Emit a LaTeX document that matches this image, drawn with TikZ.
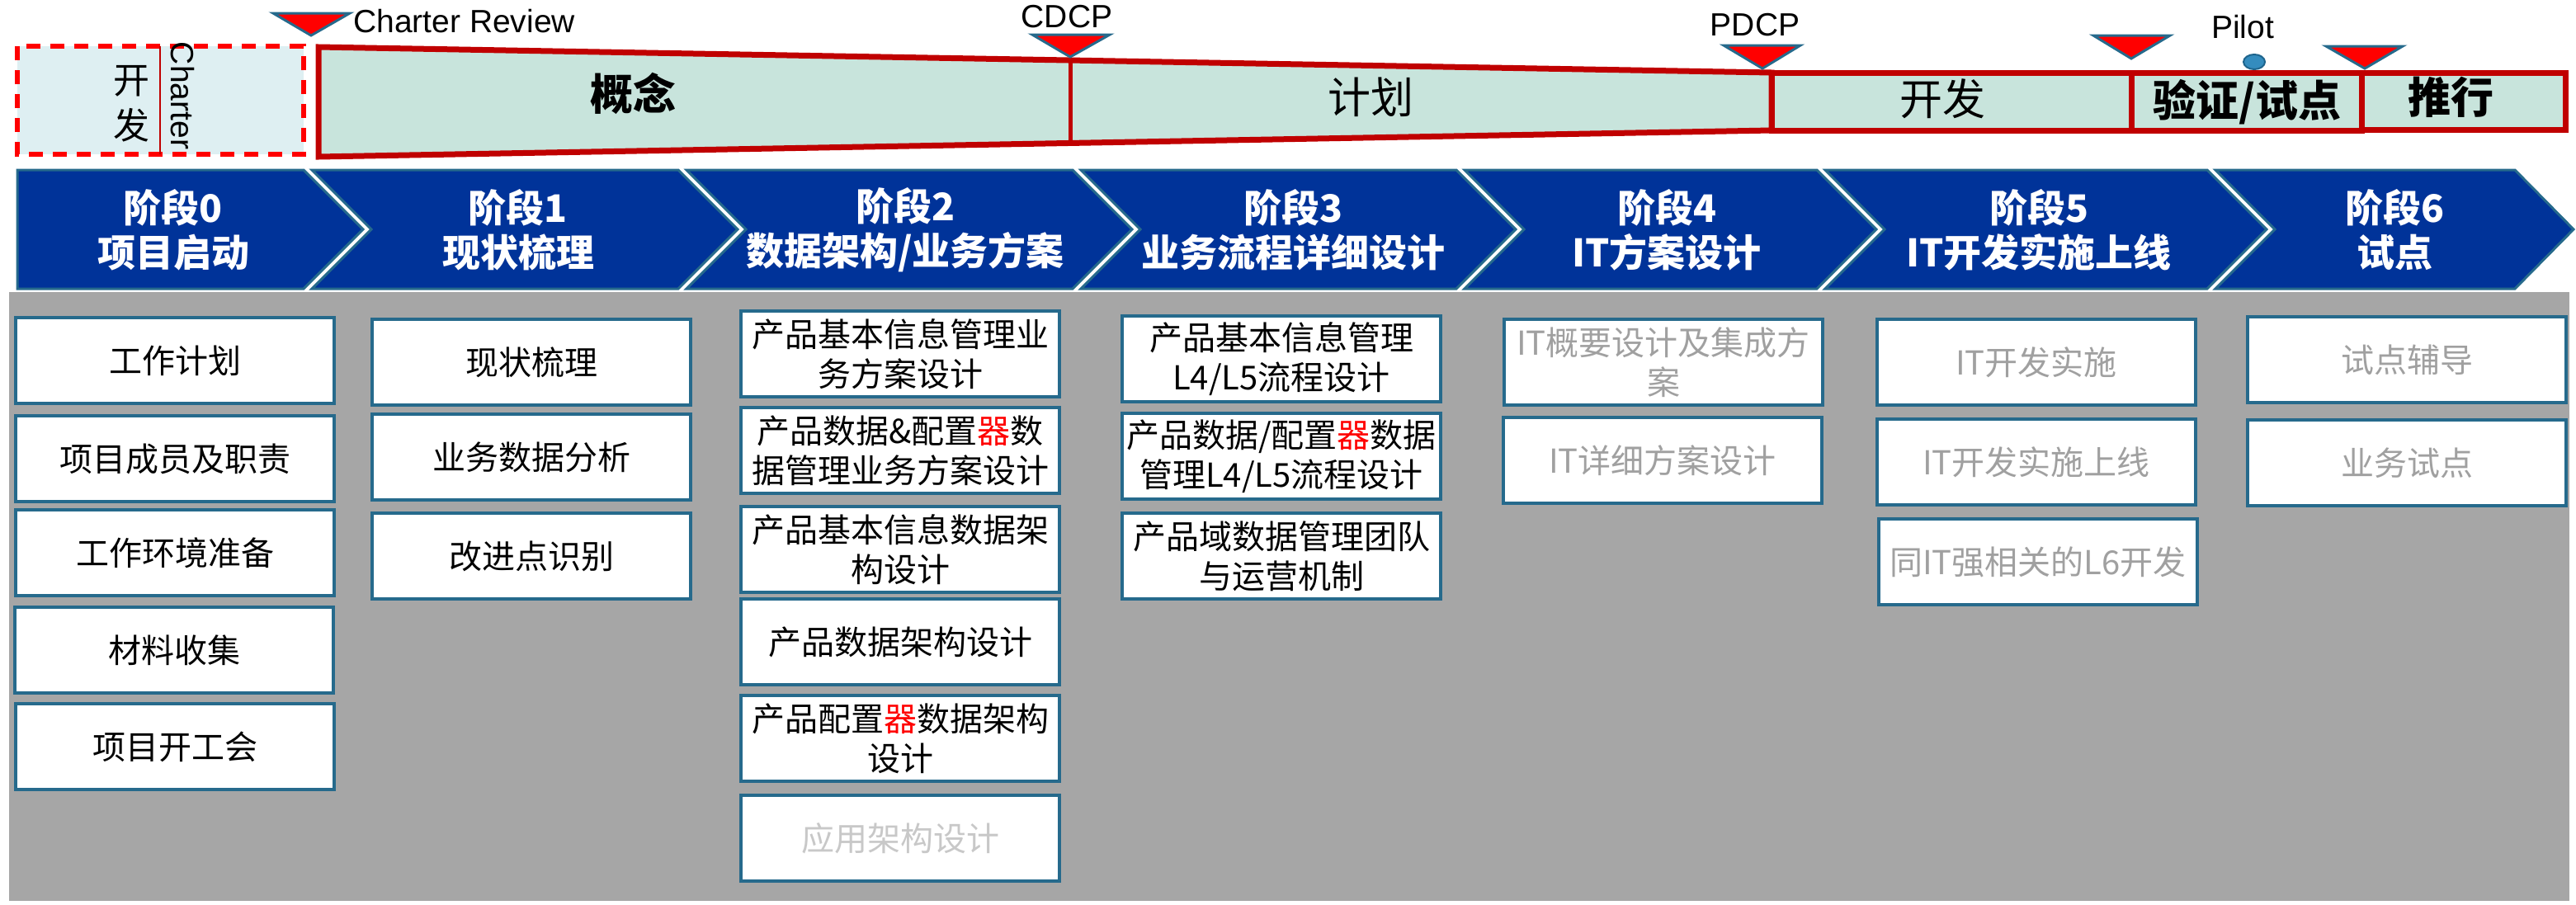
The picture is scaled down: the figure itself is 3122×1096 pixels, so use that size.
\documentclass[tikz,border=0pt]{standalone}
\usepackage{fontspec}
\setmainfont{Noto Sans CJK SC}
\newfontfamily\latf{Liberation Sans}
\usetikzlibrary{shapes.geometric}

\definecolor{trapfill}{RGB}{200,228,220}
\definecolor{darkred}{RGB}{192,0,0}
\definecolor{dashfill}{RGB}{222,239,242}
\definecolor{tealb}{RGB}{38,106,140}
\definecolor{chevblue}{RGB}{0,51,153}
\definecolor{bggray}{RGB}{166,166,166}
\definecolor{txtgray}{RGB}{160,160,160}
\definecolor{txtlight}{RGB}{200,200,200}
\definecolor{dotblue}{RGB}{52,140,190}
\definecolor{dotedge}{RGB}{30,100,140}

\begin{document}
\begin{tikzpicture}[x=1pt,y=-1pt,
  phase/.style={fill=trapfill,draw=darkred,line width=7,line join=miter},
  marker/.style={fill=red,draw=tealb,line width=3,line join=miter},
  chev/.style={fill=chevblue,draw=tealb,line width=3,line join=miter},
  chevtext/.style={text=white,align=center,inner sep=0,font=\fontsize{46}{54}\selectfont\bfseries},
  box/.style={draw=tealb,fill=white,line width=4,minimum width=386,minimum height=104,inner sep=0,align=center,font=\fontsize{40}{48}\selectfont},
  gbox/.style={box,text=txtgray},
  lbox/.style={box,text=txtlight},
  milestone/.style={inner sep=0,font=\latf\fontsize{39}{42}\selectfont},
  phasetext/.style={inner sep=0,font=\fontsize{52}{58}\selectfont},
  phasebold/.style={inner sep=0,font=\fontsize{52}{58}\selectfont\bfseries}
]
\useasboundingbox (0,0) rectangle (3122,1096);

% ---------- top phase bar ----------
\draw[fill=dashfill,draw=red,line width=6,dash pattern=on 17 off 12] (21,56) rectangle (368,187);
\draw[darkred,line width=2] (194,56) -- (194,187);
\node[inner sep=0,align=center,font=\fontsize{44}{55}\selectfont] (kf0) at (159,126) {开\\发};
\node[inner sep=0,rotate=-90,font=\latf\fontsize{39}{42}\selectfont] (chtr) at (221,116) {Charter};

\draw[phase] (386,57) -- (2147,88) -- (2147,158) -- (386,190) -- cycle;
\draw[phase] (2147,88) rectangle (2583,158);
\draw[phase] (2583,88) rectangle (2862,158);
\draw[phase] (2862,88) rectangle (3109,157);
\draw[darkred,line width=5] (1297,73) -- (1297,173);

\node[phasebold] (gn) at (767,113) {概念};
\node[phasetext] (jh) at (1661,118) {计划};
\node[phasetext] (kf) at (2354,120) {开发};
\node[phasebold] (yz) at (2723,124) {验证/试点};
\node[phasebold] (tx) at (2970,118) {推行};

% milestones
\draw[marker] (331,16) -- (424,16) -- (377,43) -- cycle;
\node[milestone,anchor=west] (cr) at (428,26) {Charter Review};
\draw[marker] (1251,42) -- (1345,42) -- (1297,69) -- cycle;
\node[milestone] (cdcp) at (1293,20) {CDCP};
\draw[marker] (2089,55) -- (2182,55) -- (2136,83) -- cycle;
\node[milestone] (pdcp) at (2127,30) {PDCP};
\draw[marker] (2537,43) -- (2630,43) -- (2583,71) -- cycle;
\node[milestone] (pilot) at (2718,33) {Pilot};
\draw[fill=dotblue,draw=dotedge,line width=2] (2732,75) ellipse [x radius=13,y radius=9];
\draw[marker] (2819,56) -- (2912,56) -- (2866,83) -- cycle;

% ---------- gray background ----------
\fill[bggray] (11,354) rectangle (3114,1092);

% ---------- chevrons ----------
\draw[chev] (21,206) -- (368,206) -- (440,278) -- (368,350) -- (21,350) -- cycle;
\draw[chev] (378,206) -- (822,206) -- (894,278) -- (822,350) -- (378,350) -- (450,278) -- cycle;
\draw[chev] (832,206) -- (1300,206) -- (1372,278) -- (1300,350) -- (832,350) -- (904,278) -- cycle;
\draw[chev] (1310,206) -- (1765,206) -- (1837,278) -- (1765,350) -- (1310,350) -- (1382,278) -- cycle;
\draw[chev] (1775,206) -- (2202,206) -- (2274,278) -- (2202,350) -- (1775,350) -- (1847,278) -- cycle;
\draw[chev] (2212,206) -- (2675,206) -- (2747,278) -- (2675,350) -- (2212,350) -- (2284,278) -- cycle;
\draw[chev] (2685,206) -- (3048,206) -- (3119,278) -- (3048,350) -- (2685,350) -- (2757,278) -- cycle;

\node[chevtext] (s0) at (210,279) {阶段0\\项目启动};
\node[chevtext] (s1) at (628,279) {阶段1\\现状梳理};
\node[chevtext] (s2) at (1097,279) {阶段2\\数据架构/业务方案};
\node[chevtext] (s3) at (1567,279) {阶段3\\业务流程详细设计};
\node[chevtext] (s4) at (2020,279) {阶段4\\IT方案设计};
\node[chevtext] (s5) at (2471,279) {阶段5\\IT开发实施上线};
\node[chevtext] (s6) at (2902,279) {阶段6\\试点};

% ---------- column 0 ----------
\node[box] (c0a) at (212,437) {工作计划};
\node[box] (c0b) at (212,556) {项目成员及职责};
\node[box] (c0c) at (212,670) {工作环境准备};
\node[box] (c0d) at (211,788) {材料收集};
\node[box] (c0e) at (212,905) {项目开工会};

% ---------- column 1 ----------
\node[box] (c1a) at (644,439) {现状梳理};
\node[box] (c1b) at (644,554) {业务数据分析};
\node[box] (c1c) at (644,674) {改进点识别};

% ---------- column 2 ----------
\node[box] (c2a) at (1091,429) {产品基本信息管理业\\务方案设计};
\node[box] (c2b) at (1091,546) {产品数据\&配置\textcolor{red}{器}数\\据管理业务方案设计};
\node[box] (c2c) at (1091,666) {产品基本信息数据架\\构设计};
\node[box] (c2d) at (1091,778) {产品数据架构设计};
\node[box] (c2e) at (1091,895) {产品配置\textcolor{red}{器}数据架构\\设计};
\node[lbox] (c2f) at (1091,1016) {应用架构设计};

% ---------- column 3 ----------
\node[box] (c3a) at (1553,435) {产品基本信息管理\\L4/L5流程设计};
\node[box] (c3b) at (1553,553) {产品数据/配置\textcolor{red}{器}数据\\管理L4/L5流程设计};
\node[box] (c3c) at (1553,674) {产品域数据管理团队\\与运营机制};

% ---------- column 4 ----------
\node[gbox] (c4a) at (2016,439) {IT概要设计及集成方\\案};
\node[gbox] (c4b) at (2015,558) {IT详细方案设计};

% ---------- column 5 ----------
\node[gbox] (c5a) at (2468,439) {IT开发实施};
\node[gbox] (c5b) at (2468,560) {IT开发实施上线};
\node[gbox] (c5c) at (2470,681) {同IT强相关的L6开发};

% ---------- column 6 ----------
\node[gbox] (c6a) at (2917,436) {试点辅导};
\node[gbox] (c6b) at (2917,561) {业务试点};
\end{tikzpicture}
\end{document}
